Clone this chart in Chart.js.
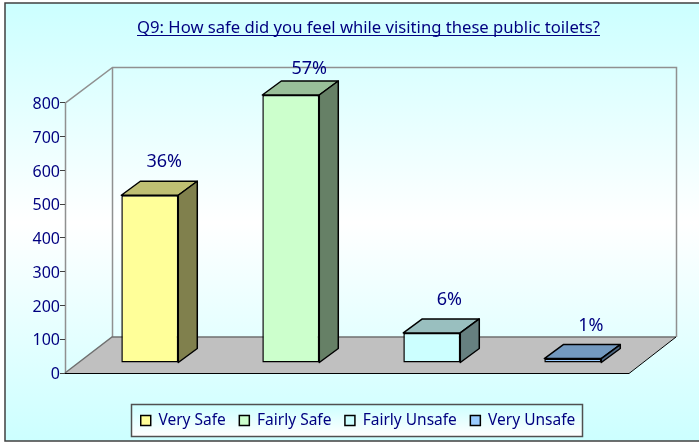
<!DOCTYPE html>
<html><head><meta charset="utf-8">
<style>html,body{margin:0;padding:0;background:#fff}canvas{display:block}</style>
<script src="https://cdn.jsdelivr.net/npm/chart.js@4"></script>
</head><body><div style="width:699px;height:444px"><canvas id="c" width="699" height="444"></canvas></div>
<script>
const titleText = "Q9: How safe did you feel while visiting these public toilets?";
const categories = ["Very Safe", "Fairly Safe", "Fairly Unsafe", "Very Unsafe"];
const counts = [497, 794, 89, 13];
const percentLabels = ["36%", "57%", "6%", "1%"];
const frontColors = ["#FFFF99", "#CCFFCC", "#CCFFFF", "#99CCFF"];
const topColors = ["#BFBF73", "#99BF99", "#99BFBF", "#7399BF"];
const sideColors = ["#80804D", "#668066", "#668080", "#4D6680"];

const FONT = '"Noto Sans", sans-serif';
const NAVY = "#000080";
const WALL = {dx: 47, dy: -36};
const BAR = {dx: 19, dy: -14, shiftX: 14.3, shiftY: -10};
const LEGEND = {font: 15.5, pad: 13.5, centerY: 420.5};
const TITLE_FONT = 16.65;
const labelNudge = [-3.5, 0.5, -0.5, 0];

const scene = {
  id: "scene",
  afterLayout(chart) {
    chart.titleBlock.left = 38; chart.titleBlock.right = 699;
    const lg = chart.legend;
    const h = lg.bottom - lg.top;
    lg.left = 17; lg.right = 699;
    lg.top = LEGEND.centerY - LEGEND.pad - LEGEND.font / 2;
    lg.bottom = lg.top + h;
    lg.adjustHitBoxes();
  },
  beforeDraw(chart) {
    const c = chart.ctx, a = chart.chartArea;
    // nudge the y tick labels down to sit level with their tick marks
    chart.scales.y.getLabelItems().forEach(it => { it.options.translation = [it.options.translation[0], it.options.translation[1] + 1.5]; });
    // frame
    const g = c.createLinearGradient(0, 4, 0, 441);
    g.addColorStop(0, "#CCFFFF"); g.addColorStop(0.5, "#FFFFFF"); g.addColorStop(1, "#CCFFFF");
    c.fillStyle = g; c.fillRect(5, 3, 694, 438);
    c.strokeStyle = "#404040"; c.lineWidth = 1.5;
    c.beginPath(); c.moveTo(699, 3); c.lineTo(5, 3); c.lineTo(5, 441); c.lineTo(699, 441); c.stroke();
    // back and left walls
    const L = a.left, R = a.right, T = a.top, B = a.bottom;
    c.lineWidth = 1.5; c.strokeStyle = "#909090";
    c.beginPath();
    c.moveTo(L + .5, B); c.lineTo(L + .5, T);
    c.lineTo(L + WALL.dx + .5, T + WALL.dy + .5);
    c.lineTo(R + WALL.dx + .5, T + WALL.dy + .5);
    c.lineTo(R + WALL.dx + .5, B + WALL.dy);
    c.moveTo(L + WALL.dx + .5, T + WALL.dy); c.lineTo(L + WALL.dx + .5, B + WALL.dy);
    c.stroke();
    // floor
    c.beginPath();
    c.moveTo(L, B); c.lineTo(R, B);
    c.lineTo(R + WALL.dx, B + WALL.dy); c.lineTo(L + WALL.dx, B + WALL.dy);
    c.closePath(); c.fillStyle = "#C0C0C0"; c.fill();
    c.strokeStyle = "#707070"; c.lineWidth = 1.5;
    c.beginPath();
    c.moveTo(L, B); c.lineTo(L + WALL.dx, B + WALL.dy); c.lineTo(R + WALL.dx, B + WALL.dy);
    c.stroke();
    c.lineWidth = 1; c.strokeStyle = "#000";
    c.beginPath(); c.moveTo(R + WALL.dx, B + WALL.dy); c.lineTo(R, B + .5); c.lineTo(L, B + .5); c.stroke();
    // legend plate
    const lp = c.createLinearGradient(0, 404, 0, 436);
    lp.addColorStop(0, "#CCFFFF"); lp.addColorStop(1, "#FFFFFF");
    c.fillStyle = lp; c.fillRect(131.5, 404.5, 451, 32);
    c.strokeStyle = "#505050"; c.lineWidth = 1.5; c.strokeRect(131.5, 404.5, 451, 32);
  },
  beforeDatasetsDraw(chart) {
    const c = chart.ctx;
    chart.getDatasetMeta(0).data.forEach((el, i) => {
      const l = el.x - el.width / 2 + BAR.shiftX, r = el.x + el.width / 2 + BAR.shiftX;
      const t = el.y + BAR.shiftY, b = el.base + BAR.shiftY;
      c.lineWidth = 1.5; c.strokeStyle = "#000"; c.lineJoin = "round";
      c.fillStyle = topColors[i];
      c.beginPath(); c.moveTo(l, t); c.lineTo(l + BAR.dx, t + BAR.dy); c.lineTo(r + BAR.dx, t + BAR.dy); c.lineTo(r, t); c.closePath(); c.fill(); c.stroke();
      c.fillStyle = sideColors[i];
      c.beginPath(); c.moveTo(r, t); c.lineTo(r + BAR.dx, t + BAR.dy); c.lineTo(r + BAR.dx, b + BAR.dy); c.lineTo(r, b); c.closePath(); c.fill(); c.stroke();
    });
  },
  beforeDatasetDraw(chart) {
    chart.ctx.save(); chart.ctx.translate(BAR.shiftX, BAR.shiftY);
  },
  afterDatasetDraw(chart) { chart.ctx.restore(); },
  afterDraw(chart) {
    const c = chart.ctx, a = chart.chartArea;
    c.save();
    c.fillStyle = NAVY; c.font = "18px " + FONT; c.textAlign = "center"; c.textBaseline = "middle";
    chart.getDatasetMeta(0).data.forEach((el, i) => {
      const y = Math.max(el.y + BAR.shiftY - 33, a.top + WALL.dy + 2);
      c.fillText(percentLabels[i], el.x + BAR.shiftX + 18 + labelNudge[i], y);
    });
    // title underline
    c.font = TITLE_FONT + "px " + FONT;
    const w = c.measureText(titleText).width, cx = 368.5;
    c.strokeStyle = NAVY; c.lineWidth = 1;
    c.beginPath(); c.moveTo(cx - w / 2, 35.5); c.lineTo(cx + w / 2, 35.5); c.stroke();
    c.restore();
  }
};

new Chart(document.getElementById("c"), {
  type: "bar",
  data: {
    labels: categories,
    datasets: [{
      data: counts,
      backgroundColor: frontColors,
      borderColor: "#000",
      borderWidth: 1.5,
      borderSkipped: false,
      categoryPercentage: 1,
      barPercentage: 0.404,
      clip: false
    }]
  },
  plugins: [scene],
  options: {
    responsive: false,
    animation: false,
    layout: {padding: {left: 0, right: 70, top: 0, bottom: 0}},
    scales: {
      x: {
        display: true,
        grid: {display: false, drawTicks: false},
        border: {display: false},
        ticks: {display: false},
        afterFit(s) { s.height = 71 - s.chart.legend.height; }
      },
      y: {
        min: 0, max: 800,
        grid: {drawOnChartArea: false, drawTicks: true, tickLength: 5, color: "#404040"},
        border: {display: false},
        ticks: {stepSize: 100, color: NAVY, font: {family: FONT, size: 16}, padding: 0},
        afterFit(s) { s.width = 65; }
      }
    },
    plugins: {
      title: {
        display: true, text: titleText, color: NAVY,
        font: {family: FONT, size: TITLE_FONT, weight: "normal"},
        padding: {top: 18, bottom: 65}
      },
      legend: {
        display: true, position: "bottom",
        labels: {
          color: NAVY, boxWidth: 10, boxHeight: 10, padding: LEGEND.pad,
          font: {family: FONT, size: LEGEND.font},
          generateLabels() {
            return categories.map((t, i) => ({text: t, fillStyle: frontColors[i], strokeStyle: "#000", lineWidth: 1.5, fontColor: NAVY, index: i}));
          }
        }
      },
      tooltip: {enabled: false}
    }
  }
});
</script></body></html>
